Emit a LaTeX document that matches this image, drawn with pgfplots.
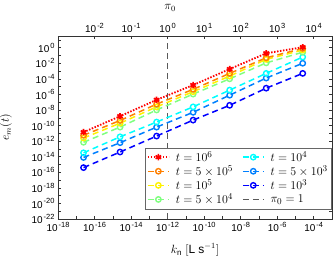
\documentclass[border=0pt]{standalone}
\usepackage{pgfplots}
\pgfplotsset{compat=1.18}
\usepackage{fontspec}
\setmainfont{Liberation Sans}
\definecolor{cR}{rgb}{1,0,0}
\definecolor{cO}{rgb}{1,0.5,0}
\definecolor{cY}{rgb}{1,0.95,0}
\definecolor{cG}{rgb}{0.5,1,0.5}
\definecolor{cC}{rgb}{0,1,1}
\definecolor{cM}{rgb}{0,0.5,1}
\definecolor{cB}{rgb}{0,0,1}
\newcommand{\tsup}[1]{\hspace{1bp}\raisebox{0.42em}{\fontsize{7.5}{8}\selectfont #1}}
\pgfplotsset{
  circ/.style={color=#1, line width=1.5bp, dash pattern=on 6bp off 4bp, mark=o, mark size=2.7bp, mark options={solid, fill=white, line width=1.4bp}},
  sR/.style={color=cR, line width=1.8bp, dash pattern=on 1.5bp off 1.5bp, mark=asterisk, mark size=3.2bp, mark options={solid, line width=1.7bp}},
  sO/.style={circ=cO}, sY/.style={circ=cY}, sG/.style={circ=cG},
  sC/.style={circ=cC}, sM/.style={circ=cM}, sB/.style={circ=cB},
  sPi/.style={color=black!65, line width=1bp, dash pattern=on 6bp off 4bp},
}
\begin{document}
\begin{tikzpicture}
\begin{axis}[
  name=main,
  scale only axis, width=274bp, height=183bp,
  xmode=log, ymode=log, log basis x=10, log basis y=10,
  xmin=1e-18, xmax=1e-3, ymin=1e-22, ymax=31.6,
  xtick={1e-18,1e-17,1e-16,1e-15,1e-14,1e-13,1e-12,1e-11,1e-10,1e-9,1e-8,1e-7,1e-6,1e-5,1e-4,1e-3},
  ytick={1e-22,1e-21,1e-20,1e-19,1e-18,1e-17,1e-16,1e-15,1e-14,1e-13,1e-12,1e-11,1e-10,1e-9,1e-8,1e-7,1e-6,1e-5,1e-4,1e-3,1e-2,1e-1,1,10},
  xticklabel={\pgfmathparse{int(round(\tick))}\ifodd\pgfmathresult\relax\else 10\tsup{\pgfmathresult}\fi},
  yticklabel={\pgfmathparse{int(round(\tick))}\ifodd\pgfmathresult\relax\else 10\tsup{\pgfmathresult}\fi},
  xtick pos=lower, ytick pos=both,
  tick align=inside,
  major tick length=3.5bp, minor tick length=2bp,
  axis line style={black!80}, tick style={black!80, line width=0.5bp},
  tick label style={font=\fontsize{10}{11}\selectfont},
  label style={font=\fontsize{12}{14}\selectfont},
  xlabel={$k_{\mathrm{n}}\ [\mathrm{L\ s}^{-1}]$},
  xlabel style={at={(axis description cs:0.5,0)}, anchor=center, yshift=-31bp},
  ylabel={$e_m(t)$},
  ylabel style={at={(axis description cs:0,0.5)}, anchor=center, yshift=52bp},
  legend style={at={(0.998,0.055)}, anchor=south east, draw=black!60, fill=white,
    font=\fontsize{12.5}{13}\selectfont, inner sep=1.5bp, row sep=-1.5bp,
    /tikz/every odd column/.append style={column sep=4bp},
    /tikz/every even column/.append style={column sep=7bp}},
  legend columns=2,
  legend cell align=left,
  legend image code/.code={\draw[mark repeat=2,mark phase=2,#1] plot coordinates {(0bp,0bp) (10.5bp,0bp) (21bp,0bp)};},
]
\addplot[sPi, forget plot] coordinates {(1e-12,1e-22) (1e-12,31.6)};
\addplot[sB, forget plot] coordinates {(2.5e-17,3.98e-16) (2.5e-15,3.98e-14) (2.5e-13,4.47e-12) (2.5e-11,5.01e-10) (2.5e-9,3.98e-8) (2.5e-7,6.31e-6) (2.5e-5,5.01e-4)};
\addplot[sM, forget plot] coordinates {(2.5e-17,7.94e-15) (2.5e-15,6.31e-13) (2.5e-13,6.31e-11) (2.5e-11,5.01e-9) (2.5e-9,7.94e-7) (2.5e-7,1.26e-4) (2.5e-5,1.0e-2)};
\addplot[sC, forget plot] coordinates {(2.5e-17,3.16e-14) (2.5e-15,3.55e-12) (2.5e-13,2.82e-10) (2.5e-11,2.51e-8) (2.5e-9,3.55e-6) (2.5e-7,5.01e-4) (2.5e-5,6.31e-2)};
\addplot[sG, forget plot] coordinates {(2.5e-17,7.08e-13) (2.5e-15,6.31e-11) (2.5e-13,1.0e-8) (2.5e-11,1.10e-6) (2.5e-9,1.0e-4) (2.5e-7,1.12e-2) (2.5e-5,0.263)};
\addplot[sY, forget plot] coordinates {(2.5e-17,2.51e-12) (2.5e-15,2.0e-10) (2.5e-13,2.51e-8) (2.5e-11,2.24e-6) (2.5e-9,2.24e-4) (2.5e-7,3.16e-2) (2.5e-5,0.501)};
\addplot[sO, forget plot] coordinates {(2.5e-17,5.62e-12) (2.5e-15,4.47e-10) (2.5e-13,5.62e-8) (2.5e-11,4.47e-6) (2.5e-9,5.01e-4) (2.5e-7,5.01e-2) (2.5e-5,0.794)};
\addplot[sR, forget plot] coordinates {(2.5e-17,1.41e-11) (2.5e-15,1.58e-9) (2.5e-13,2.0e-7) (2.5e-11,1.58e-5) (2.5e-9,1.78e-3) (2.5e-7,0.191) (2.5e-5,1.15)};
\addlegendimage{sR}
\addlegendimage{sC}
\addlegendimage{sO}
\addlegendimage{sM}
\addlegendimage{sY}
\addlegendimage{sB}
\addlegendimage{sG}
\addlegendimage{sPi}
\legend{$t=10^6$, $t=10^4$, $t=5\times10^5$, $t=5\times10^3$, $t=10^5$, $t=10^3$, $t=5\times10^4$, $\pi_0=1$}
\end{axis}
\begin{axis}[
  scale only axis, width=274bp, height=183bp,
  xmode=log, log basis x=10, xmin=1e-3, xmax=31622.8,
  ymin=0, ymax=1,
  axis x line*=top, hide y axis,
  xtick={1e-2,1e-1,1,10,100,1000,10000},
  xtick align=inside,
  major tick length=3.5bp, minor tick length=2bp,
  axis line style={black!80}, tick style={black!80, line width=0.5bp},
  xticklabel={10\tsup{\pgfmathparse{int(round(\tick))}\pgfmathresult}},
  tick label style={font=\fontsize{10}{11}\selectfont},
  label style={font=\fontsize{12}{14}\selectfont},
  xlabel={$\pi_0$},
  xlabel style={at={(axis description cs:0.409,1)}, anchor=center, yshift=28bp},
]
\end{axis}
\pgfresetboundingbox
\path[use as bounding box] ([xshift=-58bp,yshift=-43bp]main.south west) rectangle ([xshift=2bp,yshift=36bp]main.north east);
\end{tikzpicture}
\end{document}
